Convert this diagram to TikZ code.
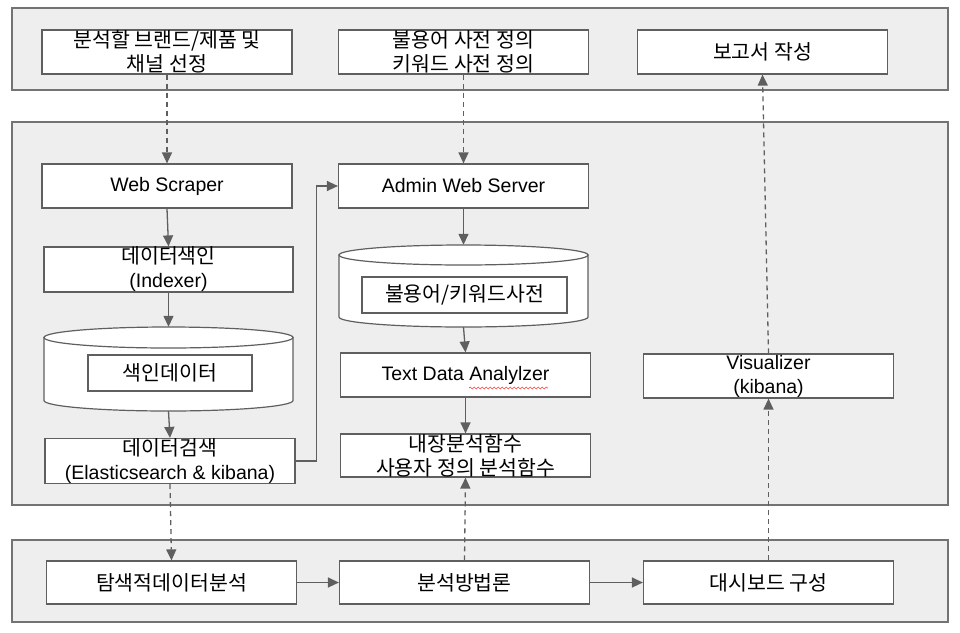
\documentclass[tikz,border=0pt]{standalone}
\usepackage{fontspec}
\setmainfont{Liberation Sans}
\newfontfamily\kr{Noto Sans CJK KR}
\definecolor{panelgray}{RGB}{238,238,238}
\definecolor{linegray}{RGB}{95,95,95}
\definecolor{framegray}{RGB}{115,115,115}
\usetikzlibrary{arrows.meta,positioning,decorations.pathmorphing}
\newcommand{\krtext}[1]{{\kr\fontsize{20.5}{24}\selectfont #1}}

\begin{document}
\begin{tikzpicture}[x=1pt,y=-1pt,
  panel/.style={draw=framegray,fill=panelgray,line width=1.2pt},
  box/.style={draw=linegray,fill=white,line width=1.2pt,minimum width=250pt,minimum height=44pt,inner sep=0pt,align=center,font=\fontsize{19.5}{24}\selectfont},
  dbspot/.style={minimum width=249pt,inner sep=0pt},
  dbshape/.style={draw=linegray,fill=white,line width=1.2pt},
  flow/.style={draw=linegray,line width=1.3pt,-{Triangle[length=11pt,width=10pt]}},
  dflow/.style={flow,dash pattern=on 5pt off 4pt}]
\useasboundingbox (0,0) rectangle (960,632);
\draw[panel] (12,8) rectangle (948,90);
\draw[panel] (12,122) rectangle (948,505);
\draw[panel] (12,540) rectangle (948,622);

\node[box] (sel) at (167,52) {\krtext{분석할 브랜드/제품 및}\\\krtext{채널 선정}};
\node[box] (dict) at (463.5,52) {\krtext{불용어 사전 정의}\\\krtext{키워드 사전 정의}};
\node[box] (report) at (762.5,52) {\krtext{보고서 작성}};

\node[box] (scraper) at (167,186) {Web Scraper};
\node[box,minimum width=249pt,minimum height=43pt] (indexer) at (168.5,269.5) {\krtext{데이터색인}\\(Indexer)};
\node[dbspot,minimum height=84pt] (db1) at (168.5,369) {};
\draw[dbshape] (44,337.5) -- (44,400.5) arc[start angle=180,end angle=360,x radius=124.5pt,y radius=10.5pt] -- (293,337.5) -- cycle;
\draw[dbshape] (168.5,337.5) ellipse[x radius=124.5pt,y radius=10.5pt];
\node[box,minimum width=164pt,minimum height=36pt] (idxdata) at (170,373) {\krtext{색인데이터}};
\node[box] (search) at (170,461) {\krtext{데이터검색}\\(Elasticsearch \& kibana)};

\node[box] (admin) at (463.5,186) {Admin Web Server};
\node[dbspot,minimum height=82pt] (db2) at (463.5,286) {};
\draw[dbshape] (339,255) -- (339,317) arc[start angle=180,end angle=360,x radius=124.5pt,y radius=10pt] -- (588,255) -- cycle;
\draw[dbshape] (463.5,255) ellipse[x radius=124.5pt,y radius=10pt];
\node[box,minimum width=205pt,minimum height=36pt] (worddict) at (464.5,295) {\krtext{불용어/키워드사전}};
\node[box] (tda) at (465.5,375) {Text Data Analylzer};
\draw[red!75,line width=0.6pt,decorate,decoration={snake,amplitude=0.9pt,segment length=4pt}] (469,388) -- (548,388);
\node[box,minimum height=43pt] (func) at (465.5,455.5) {\krtext{내장분석함수}\\\krtext{사용자 정의 분석함수}};

\node[box] (vis) at (768.5,376) {Visualizer\\(kibana)};

\node[box,minimum height=43pt] (eda) at (171.5,582.5) {\krtext{탐색적데이터분석}};
\node[box,minimum height=43pt] (method) at (464.5,582.5) {\krtext{분석방법론}};
\node[box,minimum height=43pt] (board) at (768.5,582.5) {\krtext{대시보드 구성}};

\draw[flow] (scraper.south) -- (indexer.north);
\draw[flow] (indexer.south) -- (db1.north);
\draw[flow] (db1.south) -- (search.north);
\draw[flow] (search.east) -- ++(21,0) |- (admin.west);
\draw[flow] (admin.south) -- (db2.north);
\draw[flow] (db2.south) -- (tda.north);
\draw[flow] (tda.south) -- (func.north);
\draw[flow] (eda.east) -- (method.west);
\draw[flow] (method.east) -- (board.west);

\draw[dflow] (sel.south) -- (scraper.north);
\draw[dflow] (dict.south) -- (admin.north);
\draw[dflow] (search.south) -- (eda.north);
\draw[dflow] (method.north) -- (func.south);
\draw[dflow] (board.north) -- (vis.south);
\draw[dflow] (vis.north) -- (report.south);
\end{tikzpicture}
\end{document}
